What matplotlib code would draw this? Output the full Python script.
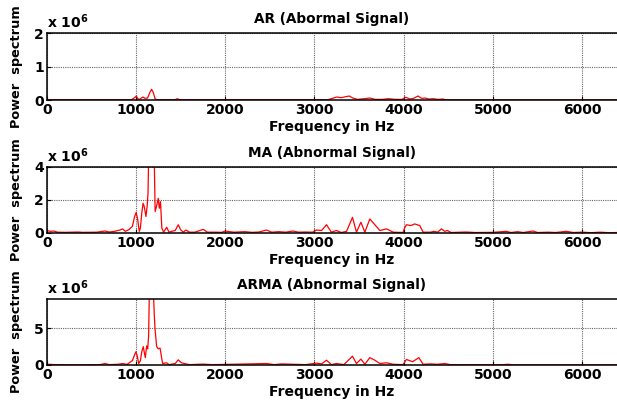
import numpy as np
import matplotlib
matplotlib.use('Agg')
import matplotlib.pyplot as plt

# values, power in units of 1e6
freq_ar = [0, 950, 990, 1003, 1020, 1040, 1060, 1080, 1100, 1130, 1155, 1175, 1195, 1215,
           1240, 1440, 1463, 1490, 3150, 3200, 3250, 3300, 3350, 3390, 3430, 3480, 3560,
           3620, 3680, 3760, 3830, 3900, 3980, 4024, 4070, 4110, 4162, 4200, 4240, 4280,
           4330, 4380, 4440, 4470, 6400]
pow_ar = [0.01, 0.01, 0.08, 0.12, 0.04, 0.02, 0.06, 0.09, 0.05, 0.06, 0.22, 0.32, 0.22, 0.03,
          0.01, 0.01, 0.04, 0.01, 0.01, 0.05, 0.09, 0.07, 0.10, 0.12, 0.06, 0.02, 0.04,
          0.06, 0.02, 0.02, 0.04, 0.02, 0.02, 0.08, 0.03, 0.05, 0.12, 0.05, 0.06, 0.03,
          0.04, 0.02, 0.03, 0.005, 0.005]

freq_ma = [0, 40, 80, 120, 200, 354, 400, 560, 600, 653, 700, 760, 820, 851, 880, 920, 960,
           985, 1003, 1020, 1037, 1050, 1065, 1080, 1093, 1112, 1125, 1135, 1142, 1150, 1170,
           1190, 1205, 1215, 1230, 1250, 1262, 1275, 1290, 1310, 1344, 1370, 1400, 1440, 1474,
           1500, 1530, 1560, 1600, 1660, 1754, 1800, 1900, 1960, 2000, 2050, 2100, 2222, 2300,
           2380, 2463, 2520, 2600, 2680, 2760, 2820, 2900, 2980, 3023, 3080, 3135, 3190, 3246,
           3300, 3360, 3426, 3471, 3520, 3565, 3620, 3677, 3733, 3808, 3883, 3993, 4010, 4030,
           4080, 4124, 4180, 4218, 4300, 4340, 4380, 4423, 4460, 4490, 4530, 4700, 4800, 5000,
           5151, 5200, 5275, 5340, 5449, 5500, 5620, 5700, 5823, 5900, 6000, 6100, 6200, 6300,
           6400]
pow_ma = [0.15, 0.10, 0.12, 0.05, 0.04, 0.06, 0.04, 0.05, 0.08, 0.12, 0.06, 0.10, 0.18, 0.25,
          0.10, 0.20, 0.40, 1.00, 1.25, 0.80, 0.10, 0.30, 1.20, 1.80, 1.60, 1.00, 1.60, 2.40,
          4.50, 7.00, 6.00, 7.00, 4.50, 1.30, 1.60, 2.10, 1.50, 1.90, 0.30, 0.05, 0.35, 0.05,
          0.10, 0.15, 0.50, 0.20, 0.05, 0.18, 0.05, 0.05, 0.22, 0.05, 0.05, 0.04, 0.12, 0.08,
          0.05, 0.08, 0.04, 0.06, 0.18, 0.05, 0.08, 0.05, 0.12, 0.05, 0.06, 0.05, 0.18, 0.15,
          0.50, 0.05, 0.15, 0.03, 0.10, 0.95, 0.05, 0.65, 0.05, 0.85, 0.50, 0.15, 0.25, 0.05,
          0.03, 0.30, 0.50, 0.45, 0.55, 0.45, 0.05, 0.05, 0.10, 0.05, 0.25, 0.10, 0.15, 0.03,
          0.06, 0.03, 0.04, 0.10, 0.03, 0.08, 0.03, 0.12, 0.03, 0.05, 0.03, 0.10, 0.03, 0.05,
          0.02, 0.05, 0.02, 0.03]

freq_arma = [0, 100, 300, 600, 653, 700, 800, 851, 900, 960, 985, 1000, 1015, 1030, 1050,
             1065, 1082, 1095, 1105, 1120, 1132, 1142, 1150, 1165, 1180, 1195, 1205, 1213, 1232,
             1250, 1270, 1290, 1300, 1344, 1370, 1440, 1474, 1510, 1560, 1600, 1750, 1850, 2000,
             2463, 2550, 2630, 2760, 2900, 3023, 3080, 3135, 3190, 3246, 3330, 3426, 3471, 3520,
             3565, 3620, 3677, 3733, 3808, 3883, 3993, 4030, 4100, 4170, 4218, 4300, 4380, 4460,
             4520, 4700, 5100, 5165, 5220, 6400]
pow_arma = [0.10, 0.05, 0.03, 0.05, 0.20, 0.05, 0.10, 0.20, 0.08, 0.60, 1.40, 1.80, 1.20, 0.20,
            0.60, 1.80, 2.50, 1.60, 1.00, 2.60, 2.20, 4.00, 10.0, 14.0, 15.0, 10.0, 7.00, 5.00,
            2.50, 2.20, 2.30, 0.80, 0.20, 0.30, 0.05, 0.20, 0.70, 0.30, 0.15, 0.05, 0.12, 0.05,
            0.08, 0.20, 0.05, 0.15, 0.10, 0.05, 0.25, 0.15, 0.65, 0.05, 0.20, 0.05, 1.20, 0.20,
            0.80, 0.10, 1.00, 0.65, 0.20, 0.30, 0.10, 0.05, 0.75, 0.45, 1.00, 0.10, 0.15, 0.10,
            0.20, 0.05, 0.03, 0.03, 0.10, 0.02, 0.02]

titles = ['AR (Abormal Signal)', 'MA (Abnormal Signal)', 'ARMA (Abnormal Signal)']
ylims = [2, 4, 9]
yticks = [[0, 1, 2], [0, 2, 4], [0, 5]]
xticks = [0, 1000, 2000, 3000, 4000, 5000, 6000]

plt.rcParams['font.family'] = 'DejaVu Sans'
plt.rcParams['font.weight'] = 'bold'

fig = plt.figure(figsize=(6.17, 4.05), dpi=100)
boxes = [[0.0757, 0.753, 0.9243, 0.1655],
         [0.0757, 0.4247, 0.9243, 0.163],
         [0.0757, 0.0988, 0.9243, 0.163]]

data = [(freq_ar, pow_ar), (freq_ma, pow_ma), (freq_arma, pow_arma)]

for i in range(3):
    ax = fig.add_axes(boxes[i])
    f, p = data[i]
    ax.plot(f, np.array(p) * 1e6, color='red', lw=0.9)
    ax.set_xlim(0, 6390)
    ax.set_ylim(0, ylims[i] * 1e6)
    ax.set_xticks(xticks)
    ax.set_yticks(np.array(yticks[i]) * 1e6)
    ax.set_yticklabels([str(v) for v in yticks[i]])
    ax.tick_params(direction='in', labelsize=10, length=3, width=0.8, pad=2)
    ax.grid(True, color='0.4', linestyle=(0, (1, 1)), lw=0.8)
    for s in ['left', 'bottom', 'top']:
        ax.spines[s].set_linewidth(1.1)
    ax.spines['right'].set_visible(False)
    ax.set_title(titles[i], fontsize=9.8, fontweight='bold', pad=7)
    ax.set_xlabel('Frequency in Hz', fontsize=10, fontweight='bold', labelpad=2.5)
    ax.set_ylabel('Power  spectrum', fontsize=9.3, fontweight='bold', labelpad=8)
    ax.text(0, 1.03, r'x 10$^{6}$', transform=ax.transAxes, fontsize=10,
            fontweight='bold', va='bottom', ha='left')

fig.savefig('out.png', dpi=100)
